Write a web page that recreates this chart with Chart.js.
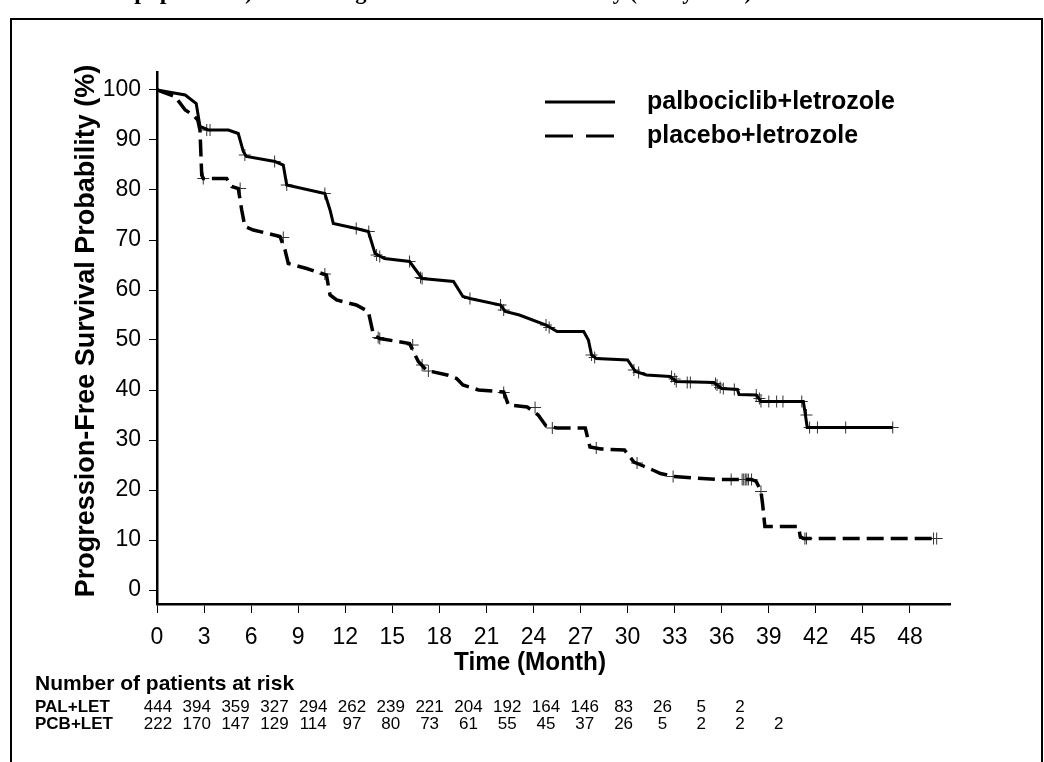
<!DOCTYPE html>
<html>
<head>
<meta charset="UTF-8">
<title>PFS Kaplan-Meier</title>
<script src="https://cdn.jsdelivr.net/npm/chart.js@4.4.0/dist/chart.umd.min.js"></script>
<style>
  html, body { margin: 0; padding: 0; background: #fff; }
  #wrap { position: relative; width: 1044px; height: 762px; }
</style>
</head>
<body>
<div id="wrap"><canvas id="kmChart" width="1044" height="762"></canvas></div>

<script>
// --- data ---
const xTicks = [0, 3, 6, 9, 12, 15, 18, 21, 24, 27, 30, 33, 36, 39, 42, 45, 48];
const yTicks = [0, 10, 20, 30, 40, 50, 60, 70, 80, 90, 100];

// palbociclib+letrozole (solid)
const palMonth = [0, 1.8, 2.5, 2.74, 3.27, 4.55, 5.18, 5.5, 5.7, 7.52, 8.05, 8.27, 10.7, 11.03, 11.24, 12.7, 13.47, 13.9, 14.5, 16.1, 16.9, 18.9, 19.5, 19.95, 21.9, 22.2, 23.1, 24.8, 25.5, 27.2, 27.5, 27.7, 28.0, 30.0, 30.5, 31.2, 32.7, 33.1, 35.5, 36.0, 37.0, 37.1, 38.2, 38.5, 41.2, 41.3, 41.45, 46.9];
const palSurv  = [100, 99, 97.3, 92.7, 92, 92, 91.3, 87.7, 86.7, 85.7, 85, 81, 79.3, 76, 73.3, 72.3, 71.7, 67.3, 66.3, 65.7, 62.3, 61.7, 58.7, 58.3, 57, 55.7, 55, 53, 51.7, 51.7, 50, 47, 46.3, 46, 43.7, 43, 42.7, 41.7, 41.5, 40.3, 40.1, 39.1, 39, 37.7, 37.7, 35.7, 32.5, 32.5];

// placebo+letrozole (dashed)
const pcbMonth = [0, 1.15, 1.8, 2.3, 2.6, 2.74, 2.85, 2.95, 4.44, 4.76, 5.18, 5.4, 5.6, 6.14, 7.84, 8.16, 8.37, 9.54, 10.8, 11.03, 11.45, 12.7, 13.47, 13.8, 14.2, 16.1, 16.4, 16.66, 17.2, 18.5, 19.1, 19.5, 20.5, 22.1, 22.4, 23.6, 24.3, 24.8, 25.5, 27.3, 27.6, 28.3, 29.8, 30.4, 31.0, 31.6, 32.1, 32.9, 35.8, 37.9, 38.2, 38.5, 38.6, 38.75, 40.9, 41.0, 41.2, 49.7];
const pcbSurv  = [100, 98.7, 96, 95, 94, 92, 83, 82.3, 82.3, 80.7, 80.3, 76, 72.7, 72, 70.7, 68, 65.3, 64.3, 63, 59, 58, 57, 55.7, 51, 50.3, 49.3, 47.3, 45.7, 43.9, 43, 42.3, 41, 40, 39.6, 37, 36.6, 35, 32.8, 32.4, 32.4, 28.6, 28.2, 28, 25.6, 24.8, 24, 23.3, 22.7, 22.1, 22.1, 21.7, 19.7, 17.3, 12.7, 12.7, 10.7, 10.3, 10.3];

// censored observations
const palCensMonth = [3.17, 3.38, 5.6, 7.5, 8.27, 10.7, 12.7, 13.5, 14.0, 14.2, 16.1, 16.8, 16.9, 19.95, 21.9, 22.1, 24.8, 25.0, 27.7, 27.9, 30.4, 30.7, 32.8, 33.0, 33.1, 33.8, 34.0, 35.6, 35.7, 35.9, 36.1, 36.8, 38.2, 38.4, 38.5, 39.0, 39.5, 39.9, 41.1, 41.4, 41.6, 42.1, 43.9, 46.9];
const palCensSurv  = [92, 92, 87, 85.7, 81, 79.3, 72.3, 71.7, 67, 66.7, 65.7, 62.5, 62.3, 58.3, 57, 56, 53, 52.5, 47, 46.5, 44, 43.5, 42.7, 42.2, 41.7, 41.5, 41.5, 41.3, 41, 40.5, 40.3, 40.1, 39, 38.3, 37.7, 37.7, 37.7, 37.7, 37.7, 35, 32.5, 32.5, 32.5, 32.5];
const pcbCensMonth = [2.95, 5.3, 8.05, 10.7, 14.1, 14.2, 16.3, 16.9, 17.3, 22.1, 24.1, 25.2, 28.0, 30.6, 32.9, 36.6, 37.3, 37.4, 37.5, 37.6, 37.7, 37.9, 38.5, 41.3, 41.4, 49.5, 49.7];
const pcbCensSurv  = [82.3, 80.3, 70.5, 63.2, 50.5, 50.3, 49, 45, 43.8, 39.5, 36.5, 32.4, 28.4, 25.4, 22.7, 22.1, 22.1, 22.1, 22.1, 22.1, 22.1, 22.1, 19.7, 10.3, 10.3, 10.3, 10.3];

// number at risk
const riskTitle = 'Number of patients at risk';
const palLabel = 'PAL+LET';
const pcbLabel = 'PCB+LET';
const palAtRisk = [444, 394, 359, 327, 294, 262, 239, 221, 204, 192, 164, 146, 83, 26, 5, 2];
const pcbAtRisk = [222, 170, 147, 129, 114, 97, 80, 73, 61, 55, 45, 37, 26, 5, 2, 2, 2];

const palName = 'palbociclib+letrozole';
const pcbName = 'placebo+letrozole';
const xTitle = 'Time (Month)';
const yTitle = 'Progression-Free Survival Probability (%)';
const topLeftText = 'Figure 1. Kaplan-Meier Plot of Progression-Free Survival (Intent-to-treat population)';
const topRightText = 'Investigator Assessment Summary (Study 1008)';

function pts(xs, ys) { return xs.map((x, i) => ({ x: x, y: ys[i] })); }

const SANS = '"Liberation Sans Narrow", "Liberation Sans", Arial, sans-serif';

const extras = {
  id: 'extras',
  afterDraw(chart) {
    const ctx = chart.ctx;
    ctx.save();
    // frame
    ctx.strokeStyle = '#000';
    ctx.lineWidth = 2;
    ctx.strokeRect(11, 19, 1031, 800);

    // cut-off caption above the frame (only the descenders show)
    ctx.fillStyle = '#000';
    ctx.font = 'bold 24px "Liberation Serif", "Times New Roman", serif';
    ctx.textBaseline = 'alphabetic';
    ctx.textAlign = 'right';
    ctx.fillText(topLeftText, 253, -1);
    ctx.textAlign = 'left';
    ctx.fillText(topRightText, 290, -1, 462);

    // axis titles
    ctx.textAlign = 'center';
    ctx.textBaseline = 'middle';
    ctx.font = 'bold 25px ' + SANS;
    ctx.fillText(xTitle, 530, 663, 152);
    ctx.save();
    ctx.translate(87, 331);
    ctx.rotate(-Math.PI / 2);
    ctx.font = 'bold 27px ' + SANS;
    ctx.fillText(yTitle, 0, 0, 538);
    ctx.restore();

    // legend
    ctx.lineWidth = 3;
    ctx.beginPath(); ctx.moveTo(545, 102); ctx.lineTo(615, 102); ctx.stroke();
    ctx.setLineDash([28, 13]);
    ctx.beginPath(); ctx.moveTo(545, 136); ctx.lineTo(616, 136); ctx.stroke();
    ctx.setLineDash([]);
    ctx.font = 'bold 25px ' + SANS;
    ctx.textAlign = 'left';
    ctx.fillText(palName, 647, 102, 266);
    ctx.fillText(pcbName, 647, 136, 211);

    // number at risk table
    ctx.font = 'bold 21px ' + SANS;
    ctx.fillText(riskTitle, 35, 684, 275);
    ctx.font = 'bold 17px ' + SANS;
    ctx.fillText(palLabel, 35, 707, 80);
    ctx.fillText(pcbLabel, 35, 724, 80);
    ctx.font = '17px ' + SANS;
    ctx.textAlign = 'center';
    const x0 = 158, dx = 38.8;
    palAtRisk.forEach((n, i) => ctx.fillText(String(n), x0 + i * dx, 707));
    pcbAtRisk.forEach((n, i) => ctx.fillText(String(n), x0 + i * dx, 724));
    ctx.restore();
  }
};

new Chart(document.getElementById('kmChart'), {
  type: 'line',
  data: {
    datasets: [
      { label: palName, data: pts(palMonth, palSurv), borderColor: '#000', borderWidth: 3,
        pointRadius: 0, tension: 0, fill: false },
      { label: pcbName, data: pts(pcbMonth, pcbSurv), borderColor: '#000', borderWidth: 3.5,
        borderDash: [17, 7], pointRadius: 0, tension: 0, fill: false },
      { label: 'pal censored', data: pts(palCensMonth, palCensSurv), showLine: false,
        pointStyle: 'cross', pointRadius: 6, borderColor: '#333', borderWidth: 1 },
      { label: 'pcb censored', data: pts(pcbCensMonth, pcbCensSurv), showLine: false,
        pointStyle: 'cross', pointRadius: 6, borderColor: '#333', borderWidth: 1 }
    ]
  },
  options: {
    responsive: false,
    animation: false,
    layout: { padding: { top: 72, right: 94, left: 0, bottom: 0 } },
    plugins: { legend: { display: false }, tooltip: { enabled: false } },
    scales: {
      x: {
        type: 'linear', min: 0, max: 50.55,
        afterBuildTicks: s => { s.ticks = xTicks.map(v => ({ value: v })); },
        afterFit: s => { s.height = 158; },
        grid: { drawOnChartArea: false, drawTicks: true, tickLength: 9, color: '#000', lineWidth: 1 },
        border: { display: true, color: '#000', width: 2.5 },
        ticks: { color: '#000', font: { family: SANS, size: 23 }, padding: 11, maxRotation: 0, autoSkip: false }
      },
      y: {
        min: -2.8, max: 103.6,
        afterBuildTicks: s => { s.ticks = yTicks.map(v => ({ value: v })); },
        afterFit: s => { s.width = 157; },
        grid: { drawOnChartArea: false, drawTicks: true, tickLength: 8, color: '#000', lineWidth: 1 },
        border: { display: true, color: '#000', width: 2.5 },
        ticks: { color: '#000', font: { family: SANS, size: 23 }, padding: 8 }
      }
    }
  },
  plugins: [extras]
});
</script>
</body>
</html>
